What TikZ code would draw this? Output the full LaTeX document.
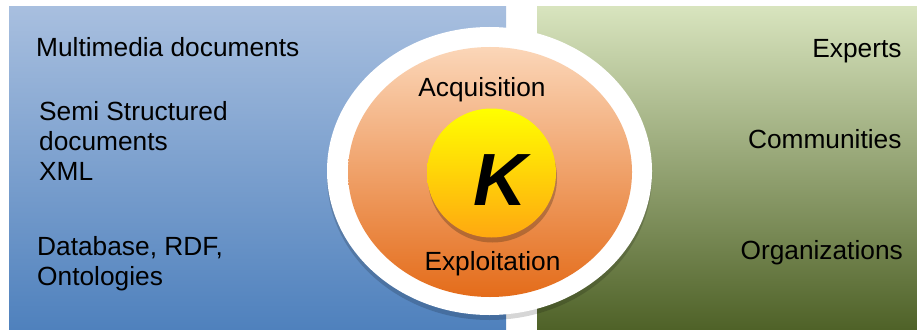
\documentclass[tikz,border=0pt]{standalone}
\usepackage{fontspec}
\setmainfont{Liberation Sans}
\usetikzlibrary{shapes.geometric,shadows}
\definecolor{lbTop}{RGB}{168,191,223}
\definecolor{lbBot}{RGB}{79,129,189}
\definecolor{grTop}{RGB}{216,228,190}
\definecolor{grBot}{RGB}{79,98,40}
\definecolor{orTop}{RGB}{251,214,184}
\definecolor{orBot}{RGB}{228,108,26}
\definecolor{yeTop}{RGB}{255,255,0}
\definecolor{yeBot}{RGB}{255,168,16}
\tikzset{
  panel/.style={draw=none},
  lbl/.style={inner sep=0pt, font=\fontsize{26.3}{30}\selectfont, text=black},
}
\begin{document}
\begin{tikzpicture}[x=1pt,y=-1pt]
\useasboundingbox (0,0) rectangle (917,329);
\fill[white] (0,0) rectangle (917,329);
% panels
\shade[panel, top color=lbTop, bottom color=lbBot] (9,7) rectangle (506,329);
\shade[panel, top color=grTop, bottom color=grBot] (537,7) rectangle (917,329);
% white ring with shadow
\node[ellipse, draw=none, fill=white, minimum width=325pt, minimum height=288pt, inner sep=0pt,
      drop shadow={shadow xshift=0pt, shadow yshift=-5pt, fill=black, opacity=0.16}] (ring) at (489.5,171) {};
% orange ellipse
\node[ellipse, draw=none, top color=orTop, bottom color=orBot, minimum width=284pt, minimum height=250pt, inner sep=0pt] (cycle) at (490,172) {};
% yellow circle
\node[circle, draw=none, top color=yeTop, bottom color=yeBot, minimum size=129pt, inner sep=0pt,
      drop shadow={shadow xshift=1pt, shadow yshift=-5pt, fill=black!70!brown, opacity=0.3}] (k) at (491.5,173) {};
\node[inner sep=0pt, anchor=base, font=\fontsize{74}{80}\selectfont\bfseries\itshape] (kl) at (500,205) {K};
% ring labels
\node[lbl, anchor=base] (acq) at (482,96) {Acquisition};
\node[lbl, anchor=base] (exp) at (492.5,270.7) {Exploitation};
% left labels
\node[lbl, anchor=base west] (mm) at (36,56.7) {Multimedia documents};
\node[lbl, anchor=base west, align=left] (semi) at (39,180.7) {Semi Structured\\documents\\XML};
\node[lbl, anchor=base west, align=left] (db) at (37,285) {Database, RDF,\\Ontologies};
% right labels
\node[lbl, anchor=base east] (ex) at (901.7,57.7) {Experts};
\node[lbl, anchor=base east] (co) at (901.7,148) {Communities};
\node[lbl, anchor=base east] (or) at (903,259) {Organizations};
\end{tikzpicture}
\end{document}
